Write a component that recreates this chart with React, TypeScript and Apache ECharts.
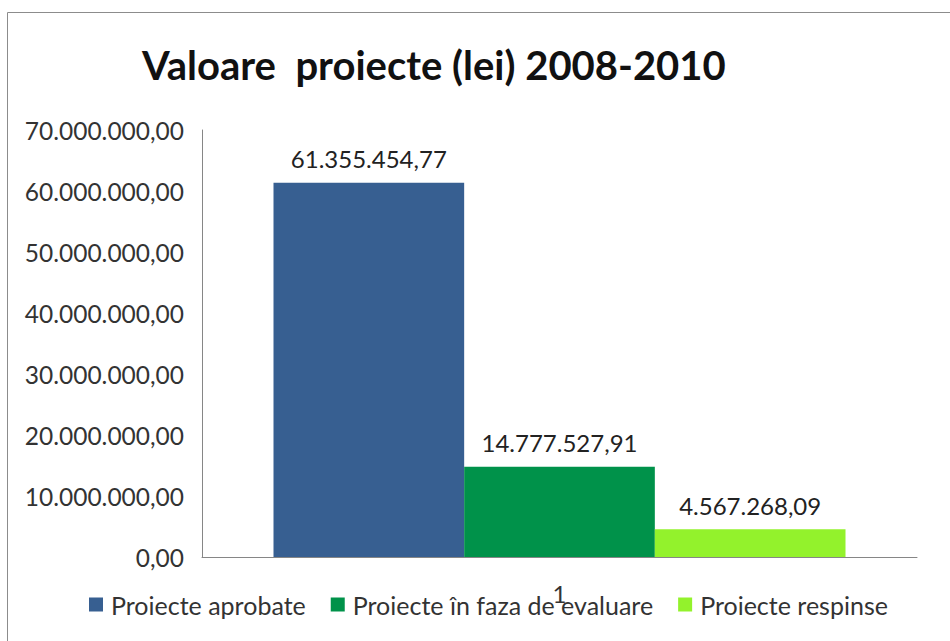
import React, { useEffect, useRef } from "react";
import * as echarts from "echarts";

const categories = ["1"];
const seriesNames = [
  "Proiecte aprobate",
  "Proiecte în faza de evaluare",
  "Proiecte respinse",
];
const aprobate = [61355454.77];
const evaluare = [14777527.91];
const respinse = [4567268.09];
const seriesColors = ["#375F91", "#00924A", "#93F22C"];
const yMin = 0;
const yMax = 70000000;
const yStep = 10000000;
const titleText = "Valoare  proiecte (lei) 2008-2010";

function fmt(v: number): string {
  const [i, d] = Math.abs(v).toFixed(2).split(".");
  const grouped = i.replace(/\B(?=(\d{3})+(?!\d))/g, ".");
  return (v < 0 ? "-" : "") + grouped + "," + d;
}

const FONT = "Lato, 'Open Sans', sans-serif";

export default function App() {
  const ref = useRef<HTMLDivElement>(null);
  useEffect(() => {
    if (!ref.current) return;
    const chart = echarts.init(ref.current, undefined, { renderer: "svg" });
    const values = [aprobate, evaluare, respinse];
    chart.setOption({
      animation: false,
      backgroundColor: "#ffffff",
      textStyle: { fontFamily: FONT },
      title: {
        text: titleText,
        left: 137,
        top: 40,
        textStyle: {
          fontFamily: FONT,
          fontWeight: "bold",
          fontSize: 40,
          color: "#111111",
        },
      },
      graphic: [
        {
          type: "rect",
          shape: { x: 7.5, y: 12.5, width: 1200, height: 1200 },
          style: { fill: "none", stroke: "#8c8c8c", lineWidth: 1 },
          silent: true,
          z: -1,
        },
      ],
      legend: {
        data: seriesNames,
        left: 89,
        top: 592,
        padding: 0,
        itemWidth: 14,
        itemHeight: 14,
        itemGap: 25,
        icon: "rect",
        textStyle: {
          fontFamily: FONT,
          fontSize: 25,
          color: "#333333",
          padding: [0, 0, 0, 3],
        },
      },
      grid: { left: 202, right: 33, top: 130, bottom: 84, containLabel: false },
      xAxis: {
        type: "category",
        data: categories,
        axisLine: { show: true, lineStyle: { color: "#868686", width: 1 } },
        axisTick: { show: false },
        axisLabel: {
          fontFamily: FONT,
          fontSize: 24,
          color: "#333333",
          margin: 24,
        },
        splitLine: { show: false },
      },
      yAxis: {
        type: "value",
        min: yMin,
        max: yMax,
        interval: yStep,
        axisLine: { show: true, lineStyle: { color: "#868686", width: 1 } },
        axisTick: { show: false },
        splitLine: { show: false },
        axisLabel: {
          fontFamily: FONT,
          fontSize: 24.5,
          color: "#333333",
          margin: 18,
          formatter: (v: number) => fmt(v),
        },
      },
      series: seriesNames.map((name, i) => ({
        name,
        type: "bar",
        data: values[i],
        barGap: "0%",
        barCategoryGap: "20%",
        itemStyle: { color: seriesColors[i] },
        label: {
          show: true,
          position: "top",
          distance: 12,
          fontFamily: FONT,
          fontSize: 24,
          color: "#222222",
          formatter: (p: any) => fmt(p.value),
        },
      })),
    });
    return () => chart.dispose();
  }, []);
  return (
    <div
      ref={ref}
      style={{ position: "fixed", left: 0, top: 0, width: 950, height: 641 }}
    />
  );
}
